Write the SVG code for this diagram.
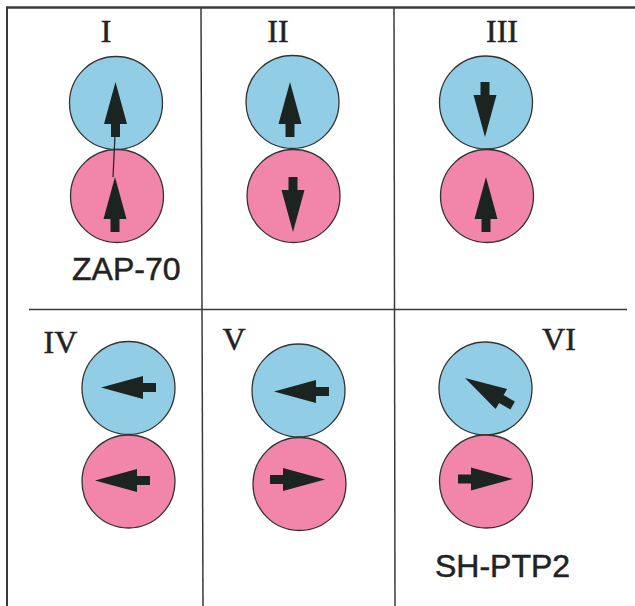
<svg xmlns="http://www.w3.org/2000/svg" xmlns:xlink="http://www.w3.org/1999/xlink" width="635" height="606" viewBox="0 0 635 606">
<style>
.frame{stroke:#3a3a3a;fill:none}
.blue{fill:#92cde6;stroke:#333;stroke-width:1.3}
.pink{fill:#f285aa;stroke:#333;stroke-width:1.3}
.arr{fill:#1c2421}
.roman{font-family:"Liberation Serif","Times New Roman",serif;font-size:32px;fill:#222;stroke:#222;stroke-width:0.5;text-anchor:middle}
.name{font-family:"Liberation Sans",Arial,sans-serif;font-size:32px;fill:#222;stroke:#222;stroke-width:0.5}
</style>
<defs>
<path id="arrow" d="M0,0 L11.5,42 L4.5,42 L4.5,55 L-4.5,55 L-4.5,42 L-11.5,42 Z"/>
</defs>
<rect width="635" height="606" fill="#ffffff"/>
<g id="grid">
<line class="frame" x1="6" y1="7.5" x2="635" y2="7.5" stroke-width="2.5"/>
<line class="frame" x1="7" y1="7" x2="7" y2="606" stroke-width="2"/>
<line class="frame" x1="29" y1="309.5" x2="627" y2="309.5" stroke-width="1.6"/>
<line class="frame" x1="201" y1="8" x2="203" y2="606" stroke-width="1.5"/>
<line class="frame" x1="394" y1="8" x2="395" y2="606" stroke-width="1.5"/>
</g>
<g id="panel-I">
<text class="roman" x="106" y="42">I</text>
<circle class="blue" cx="116" cy="103" r="46.5"/>
<circle class="pink" cx="117" cy="196" r="46.5"/>
<use xlink:href="#arrow" class="arr" transform="translate(115.5,82)"/>
<use xlink:href="#arrow" class="arr" transform="translate(115,177)"/>
<text class="name" x="72" y="280">ZAP-70</text>
</g>
<g id="panel-II">
<text class="roman" x="278" y="42">II</text>
<circle class="blue" cx="292.5" cy="102" r="46.5"/>
<circle class="pink" cx="293.5" cy="196" r="46.5"/>
<use xlink:href="#arrow" class="arr" transform="translate(290,82)"/>
<use xlink:href="#arrow" class="arr" transform="translate(293,232) rotate(180)"/>
</g>
<g id="panel-III">
<text class="roman" x="502" y="42">III</text>
<circle class="blue" cx="486" cy="102.5" r="46.5"/>
<circle class="pink" cx="487" cy="196" r="46.5"/>
<use xlink:href="#arrow" class="arr" transform="translate(485,137) rotate(180)"/>
<use xlink:href="#arrow" class="arr" transform="translate(486,177)"/>
</g>
<g id="panel-IV">
<text class="roman" x="60.5" y="353">IV</text>
<circle class="blue" cx="128.5" cy="388" r="46.5"/>
<circle class="pink" cx="128.5" cy="481.5" r="46.5"/>
<use xlink:href="#arrow" class="arr" transform="translate(101,387.5) rotate(-90)"/>
<use xlink:href="#arrow" class="arr" transform="translate(95,480.5) rotate(-90)"/>
</g>
<g id="panel-V">
<text class="roman" x="234" y="350">V</text>
<circle class="blue" cx="298.5" cy="390.5" r="46.5"/>
<circle class="pink" cx="299.5" cy="484" r="46.5"/>
<use xlink:href="#arrow" class="arr" transform="translate(274,391.5) rotate(-90)"/>
<use xlink:href="#arrow" class="arr" transform="translate(325,479.5) rotate(90)"/>
</g>
<g id="panel-VI">
<text class="roman" x="559" y="350">VI</text>
<circle class="blue" cx="485.5" cy="388.5" r="46.5"/>
<circle class="pink" cx="486" cy="481.5" r="46.5"/>
<use xlink:href="#arrow" class="arr" transform="translate(465,378) rotate(-60)"/>
<use xlink:href="#arrow" class="arr" transform="translate(513,479) rotate(90)"/>
<text class="name" x="435" y="577">SH-PTP2</text>
</g>
<g id="connectors">
<line x1="115" y1="135" x2="113" y2="177" stroke="#1c2421" stroke-width="1.2"/>
</g>
</svg>
